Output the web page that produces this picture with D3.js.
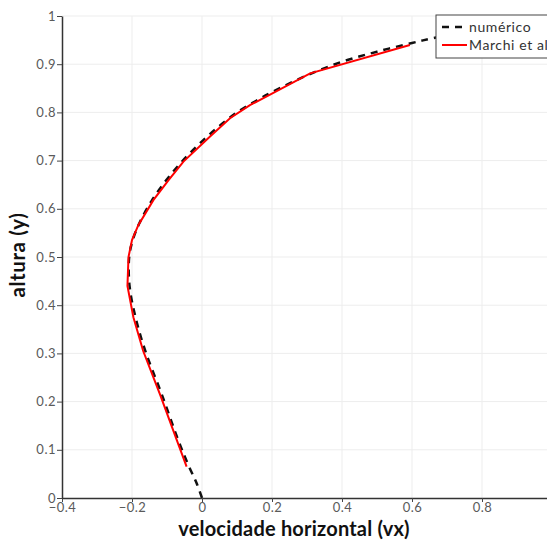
<!DOCTYPE html>
<html>
<head>
<meta charset="utf-8">
<title>perfil vx</title>
<style>
  body { margin: 0; background: #fff; }
  svg { display: block; }
  text { font-family: Lato, "DejaVu Sans", sans-serif; }
</style>
</head>
<body>
<div class="plot_container"></div>
<script src="https://cdn.jsdelivr.net/npm/d3@7/dist/d3.min.js"></script>
<script>
// numérico (solução numérica), pares [vx, y]
var numX = [0.0, -0.015, -0.04, -0.068, -0.115, -0.162, -0.19, -0.207, -0.208, -0.198, -0.179, -0.141, -0.096, -0.051, 0.0, 0.05, 0.1, 0.15, 0.2, 0.3, 0.4, 0.5, 0.6, 0.66, 0.75, 0.85, 1.0];
var numY = [0.0, 0.03, 0.07, 0.12, 0.215, 0.305, 0.375, 0.44, 0.5, 0.535, 0.57, 0.62, 0.665, 0.703, 0.74, 0.772, 0.8, 0.822, 0.842, 0.877, 0.905, 0.926, 0.944, 0.954, 0.967, 0.98, 1.0];

// Marchi et al (referência)
var refX = [-0.044, -0.072, -0.12, -0.168, -0.196, -0.213, -0.21, -0.2, -0.182, -0.139, -0.095, -0.053, 0.023, 0.08, 0.137, 0.309, 0.594];
var refY = [0.065, 0.12, 0.215, 0.305, 0.375, 0.44, 0.5, 0.535, 0.566, 0.618, 0.66, 0.698, 0.75, 0.788, 0.815, 0.881, 0.94];

var xTicks = [-0.4, -0.2, 0, 0.2, 0.4, 0.6, 0.8];
var yTicks = [0, 0.1, 0.2, 0.3, 0.4, 0.5, 0.6, 0.7, 0.8, 0.9, 1];
var seriesNames = ["numérico", "Marchi et al"];

(function(){
    var width = 547, height = 542;
    var mLeft = 62, mRight = 547, mTop = 16, mBottom = 498;

    var svg = d3.select(".plot_container").append("svg")
        .attr("width", width)
        .attr("height", height);

    var x = d3.scaleLinear().domain([-0.4, (mRight - mLeft) / 350 - 0.4]).range([mLeft, mRight]);
    var y = d3.scaleLinear().domain([0, 1]).range([mBottom, mTop]);

    // grid
    svg.append("g").selectAll("line").data(xTicks.slice(1)).enter().append("line")
        .attr("x1", function(d){ return x(d); }).attr("x2", function(d){ return x(d); })
        .attr("y1", mTop).attr("y2", mBottom)
        .attr("stroke", "#ededed").attr("stroke-width", 1);
    svg.append("g").selectAll("line").data(yTicks.slice(1)).enter().append("line")
        .attr("x1", mLeft).attr("x2", mRight)
        .attr("y1", function(d){ return y(d); }).attr("y2", function(d){ return y(d); })
        .attr("stroke", "#ededed").attr("stroke-width", 1);

    // curves
    var numData = numX.map(function(d, i){ return [d, numY[i]]; });
    var refData = refX.map(function(d, i){ return [d, refY[i]]; });

    var line = d3.line()
        .x(function(d){ return x(d[0]); })
        .y(function(d){ return y(d[1]); });

    svg.append("path")
        .attr("d", line.curve(d3.curveCatmullRom)(numData))
        .attr("fill", "none")
        .attr("stroke", "#111")
        .attr("stroke-width", 2.5)
        .attr("stroke-dasharray", "7,6");

    svg.append("path")
        .attr("d", line.curve(d3.curveLinear)(refData))
        .attr("fill", "none")
        .attr("stroke", "#ff0000")
        .attr("stroke-width", 2);

    // axes
    var xAxis = svg.append("g")
        .attr("transform", "translate(0," + mBottom + ")")
        .call(d3.axisBottom(x).tickValues(xTicks).tickSize(4).tickSizeOuter(0)
            .tickFormat(function(d){ return d === 0 ? "0" : d3.format(".1f")(d); }));
    var yAxis = svg.append("g")
        .attr("transform", "translate(" + mLeft + ",0)")
        .call(d3.axisLeft(y).tickValues(yTicks).tickSize(5).tickSizeOuter(0)
            .tickFormat(function(d){ return (d === 0 || d === 1) ? String(d) : d3.format(".1f")(d); }));

    [xAxis, yAxis].forEach(function(a){
        a.select(".domain").attr("stroke", "#333").attr("stroke-width", 1.5);
        a.selectAll(".tick line").attr("stroke", "#444");
        a.selectAll(".tick text").attr("fill", "#5a5a5a")
            .style("font-size", "13px").style("letter-spacing", "0.5px");
    });
    xAxis.selectAll(".tick text").attr("dy", "0.55em");
    yAxis.selectAll(".tick text").attr("x", -6);

    svg.append("text")
        .attr("x", 294).attr("y", 536)
        .attr("text-anchor", "middle")
        .style("font-size", "20px").style("font-weight", "bold")
        .style("letter-spacing", "0.2px")
        .attr("fill", "#111")
        .text("velocidade horizontal (vx)");

    svg.append("text")
        .attr("transform", "translate(25,255) rotate(-90)")
        .attr("text-anchor", "middle")
        .style("font-size", "20.5px").style("font-weight", "bold")
        .style("letter-spacing", "0.6px")
        .attr("fill", "#111")
        .text("altura (y)");

    // legend
    var lg = svg.append("g").attr("transform", "translate(436,15)");
    lg.append("rect")
        .attr("width", 120).attr("height", 43)
        .attr("fill", "#fff").attr("stroke", "#444").attr("stroke-width", 1);
    var items = lg.selectAll(".item").data(seriesNames).enter().append("g")
        .attr("transform", function(d, i){ return "translate(0," + (12 + i * 18) + ")"; });
    items.append("line")
        .attr("x1", 6).attr("x2", 31).attr("y1", 0).attr("y2", 0)
        .attr("stroke", function(d, i){ return i === 0 ? "#111" : "#ff0000"; })
        .attr("stroke-width", function(d, i){ return i === 0 ? 2.5 : 2; })
        .attr("stroke-dasharray", function(d, i){ return i === 0 ? "7,6" : null; });
    items.append("text")
        .attr("x", 33).attr("y", 5)
        .style("font-size", "14px").style("letter-spacing", "0.6px")
        .attr("fill", "#333")
        .text(function(d){ return d; });
})();
</script>
</body>
</html>
